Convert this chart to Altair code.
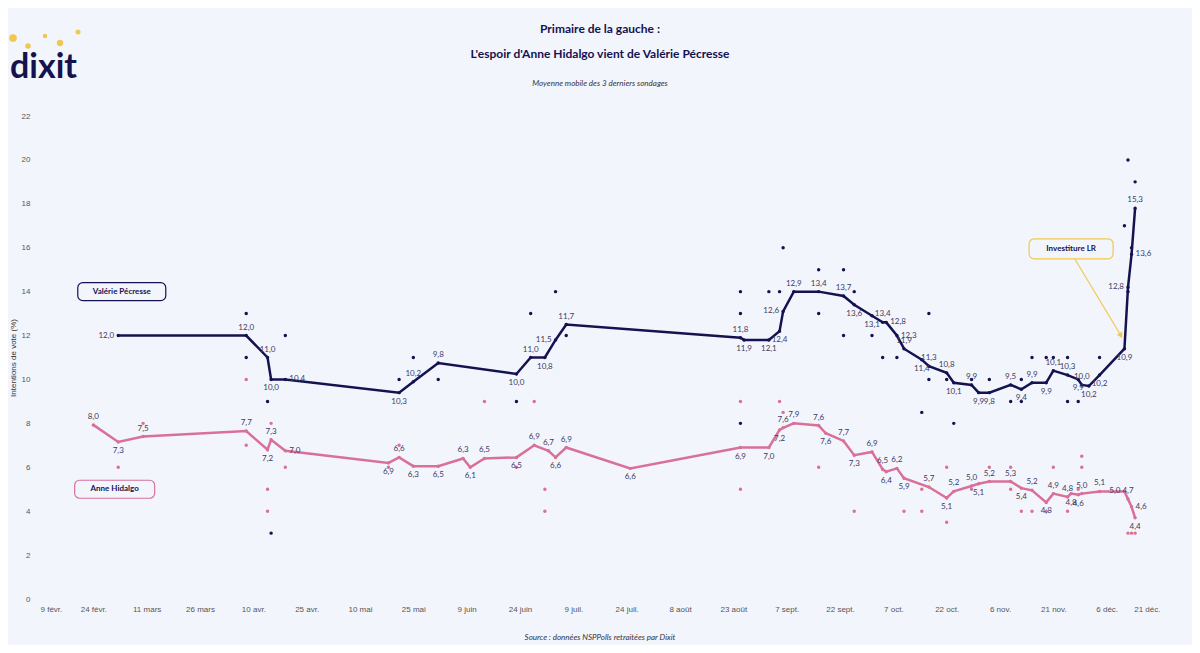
import altair as alt
import pandas as pd

NAVY = "#14124f"
PINK = "#d9709a"
BG = "#f3f5fd"
GOLD = "#f0c850"

# Valérie Pécresse: moyenne mobile
vp_dates = ["2021-03-03", "2021-04-08", "2021-04-14", "2021-04-15", "2021-04-19", "2021-05-21", "2021-05-25",
            "2021-06-01", "2021-06-23", "2021-06-27", "2021-07-01", "2021-07-04", "2021-07-07", "2021-08-25",
            "2021-08-26", "2021-09-02", "2021-09-05", "2021-09-06", "2021-09-09", "2021-09-16", "2021-09-23",
            "2021-09-26", "2021-10-01", "2021-10-04", "2021-10-05", "2021-10-08", "2021-10-10", "2021-10-15",
            "2021-10-17", "2021-10-22", "2021-10-24", "2021-10-29", "2021-10-31", "2021-11-03", "2021-11-09",
            "2021-11-12", "2021-11-15", "2021-11-19", "2021-11-21", "2021-11-25", "2021-11-28", "2021-11-29",
            "2021-12-01", "2021-12-04", "2021-12-11", "2021-12-12", "2021-12-13", "2021-12-14"]
vp_values = [12.0, 12.0, 11.0, 10.0, 10.0, 9.4, 9.9, 10.75, 10.25, 11.0, 11.0, 11.8, 12.5, 11.9,
             11.8, 11.8, 12.2, 13.1, 14.0, 14.0, 13.8, 13.4, 12.9, 12.6, 12.6, 12.0, 11.4, 10.9,
             10.6, 10.3, 9.85, 9.75, 9.4, 9.4, 9.75, 9.55, 9.85, 9.85, 10.4, 10.2, 10.0, 9.75,
             9.7, 10.2, 11.4, 14.2, 15.7, 17.8]
vp_labels = ["12,0", "12,0", "11,0", "10,0", "10,4", "10,3", "10,2", "9,8", "10,0", "11,0", "10,8", "11,5", "11,7",
             "11,8", "11,9", "12,1", "12,4", "12,6", "12,9", "13,4", "13,7", "13,6", "13,1", "13,4", "12,8", "12,3",
             "11,9", "11,4", "11,3", "10,8", "10,1", "9,9", "9,9", "9,8", "9,5", "9,4", "9,9", "9,9", "10,1", "10,3",
             "9,9", "10,0", "10,2", "10,2", "10,9", "12,8", "13,6", "15,3"]
# label side: 1 = above the line, -1 = below, 0 = right, 2 = left
vp_side = [2, 1, 1, -1, 0, -1, 1, 1, -1, 1, -1, 2, 1, 1, -1, -1, -1, 2, 1, 1, 1, -1, -1, 1, 0, 0,
           1, -1, 1, 1, -1, 1, -1, -1, 1, -1, 1, -1, 1, 1, -1, 1, -1, -1, -1, 2, 0, 1]

# Anne Hidalgo: moyenne mobile
ah_dates = ["2021-02-24", "2021-03-03", "2021-03-10", "2021-04-08", "2021-04-14", "2021-04-15", "2021-04-19",
            "2021-05-18", "2021-05-21", "2021-05-25", "2021-06-01", "2021-06-08", "2021-06-10", "2021-06-14",
            "2021-06-23", "2021-06-28", "2021-07-02", "2021-07-04", "2021-07-07", "2021-07-25", "2021-08-25",
            "2021-09-02", "2021-09-05", "2021-09-06", "2021-09-09", "2021-09-16", "2021-09-18", "2021-09-23",
            "2021-09-26", "2021-10-01", "2021-10-04", "2021-10-05", "2021-10-08", "2021-10-10", "2021-10-17",
            "2021-10-22", "2021-10-24", "2021-10-29", "2021-10-31", "2021-11-03", "2021-11-09", "2021-11-12",
            "2021-11-15", "2021-11-19", "2021-11-21", "2021-11-25", "2021-11-26", "2021-11-28", "2021-11-29",
            "2021-12-04", "2021-12-11", "2021-12-12", "2021-12-13", "2021-12-14"]
ah_values = [7.93, 7.15, 7.4, 7.65, 6.8, 7.25, 6.75, 6.2, 6.45, 6.05, 6.05, 6.4, 6.0, 6.4,
             6.45, 7.0, 6.75, 6.45, 6.9, 5.95, 6.9, 6.9, 7.7, 7.8, 8.0, 7.9, 7.55, 7.2,
             6.55, 6.7, 5.9, 5.8, 5.95, 5.5, 5.1, 4.6, 4.9, 5.15, 5.25, 5.35, 5.35, 5.05,
             4.95, 4.4, 4.8, 4.65, 4.8, 4.75, 4.8, 4.9, 4.9, 4.55, 4.2, 3.7]
ah_labels = ["8,0", "7,3", "7,5", "7,7", "7,2", "7,3", "7,0", "6,9", "6,6", "6,3", "6,5", "6,3", "6,1", "6,5",
             "6,5", "6,9", "6,7", "6,6", "6,9", "6,6", "6,9", "7,0", "7,2", "7,6", "7,9", "7,6", "7,6", "7,7",
             "7,3", "6,9", "6,5", "6,4", "6,2", "5,9", "5,7", "5,1", "5,2", "5,0", "5,1", "5,2", "5,3", "5,4",
             "5,2", "4,8", "4,9", "4,8", "4,8", "4,6", "5,0", "5,1", "5,0", "4,7", "4,6", "4,4"]
ah_side = [1, -1, 1, 1, -1, 1, 0, -1, 1, -1, -1, 1, -1, 1, -1, 1, 1, -1, 1, -1, -1, -1, -1, 1, 1,
           1, -1, 1, -1, 1, 1, -1, 1, -1, 1, -1, 1, 1, -1, 1, 1, -1, 1, -1, 1, 1, -1, -1, 1,
           1, 2, 1, 0, -1]

# Sondages individuels
vp_poll_dates = ["2021-04-08", "2021-04-08", "2021-04-14", "2021-04-15", "2021-04-19", "2021-05-21", "2021-05-25",
                 "2021-06-01", "2021-06-23", "2021-06-27", "2021-07-04", "2021-07-07", "2021-08-25", "2021-08-25",
                 "2021-08-25", "2021-09-02", "2021-09-05", "2021-09-06", "2021-09-16", "2021-09-16", "2021-09-23",
                 "2021-09-23", "2021-09-26", "2021-10-01", "2021-10-04", "2021-10-08", "2021-10-15", "2021-10-17",
                 "2021-10-17", "2021-10-22", "2021-10-24", "2021-10-29", "2021-11-03", "2021-11-09", "2021-11-12",
                 "2021-11-12", "2021-11-15", "2021-11-19", "2021-11-21", "2021-11-25", "2021-11-25", "2021-11-28",
                 "2021-12-04", "2021-12-11", "2021-12-12", "2021-12-12", "2021-12-14", "2021-12-13"]
vp_poll_values = [13, 11, 9, 3, 12, 10, 11, 10, 9, 13, 14, 12, 14, 13, 8, 14, 14, 16, 15, 13, 15, 12, 14, 12, 11,
                  11, 8.5, 13, 10, 10, 8, 10, 10, 9, 9, 10, 11, 11, 11, 11, 9, 9, 11, 17, 14, 20, 19, 16]
ah_poll_dates = ["2021-03-03", "2021-03-10", "2021-04-08", "2021-04-08", "2021-04-14", "2021-04-14", "2021-04-15",
                 "2021-04-19", "2021-05-18", "2021-05-21", "2021-06-14", "2021-06-23", "2021-06-28", "2021-07-01",
                 "2021-07-01", "2021-08-25", "2021-08-25", "2021-09-05", "2021-09-06", "2021-09-16", "2021-09-26",
                 "2021-10-10", "2021-10-15", "2021-10-15", "2021-10-22", "2021-10-22", "2021-10-29", "2021-11-03",
                 "2021-11-09", "2021-11-09", "2021-11-12", "2021-11-15", "2021-11-19", "2021-11-21", "2021-11-25",
                 "2021-11-28", "2021-11-29", "2021-11-29", "2021-12-12", "2021-12-13", "2021-12-14"]
ah_poll_values = [6, 8, 10, 7, 5, 4, 8, 6, 6, 7, 9, 6, 9, 5, 4, 5, 9, 9, 8.5, 6, 4, 4, 5, 4, 3.5, 6, 5, 6, 6, 5,
                  4, 4, 4, 6, 4, 5, 6.5, 6, 3, 3, 3]

lines = pd.concat([
    pd.DataFrame({"date": vp_dates, "v": vp_values, "lab": vp_labels, "side": vp_side, "who": "Valérie Pécresse"}),
    pd.DataFrame({"date": ah_dates, "v": ah_values, "lab": ah_labels, "side": ah_side, "who": "Anne Hidalgo"}),
])
polls = pd.concat([
    pd.DataFrame({"date": vp_poll_dates, "v": vp_poll_values, "who": "Valérie Pécresse"}),
    pd.DataFrame({"date": ah_poll_dates, "v": ah_poll_values, "who": "Anne Hidalgo"}),
])

tick_dates = ["2021-02-09", "2021-02-24", "2021-03-11", "2021-03-26", "2021-04-10", "2021-04-25", "2021-05-10",
              "2021-05-25", "2021-06-09", "2021-06-24", "2021-07-09", "2021-07-24", "2021-08-08", "2021-08-23",
              "2021-09-07", "2021-09-22", "2021-10-07", "2021-10-22", "2021-11-06", "2021-11-21", "2021-12-06",
              "2021-12-21"]
tick_vals = [alt.DateTime(year=2021, month=int(d[5:7]), date=int(d[8:])) for d in tick_dates]

month_expr = ("['janv.','févr.','mars','avr.','mai','juin','juil.','août','sept.','oct.','nov.','déc.']"
              "[month(datum.value)]")

color = alt.Color("who:N", scale=alt.Scale(domain=["Valérie Pécresse", "Anne Hidalgo"], range=[NAVY, PINK]),
                  legend=None)
x = alt.X("date:T", title=None,
          scale=alt.Scale(domain=[alt.DateTime(year=2021, month=2, date=9),
                                  alt.DateTime(year=2021, month=12, date=21)]),
          axis=alt.Axis(values=tick_vals, labelExpr="date(datum.value) + ' ' + " + month_expr,
                        labelColor="#555", labelFontSize=8, domain=False, ticks=False, grid=False,
                        labelPadding=6))
y = alt.Y("v:Q", title="Intentions de vote (%)",
          scale=alt.Scale(domain=[0, 22], nice=False),
          axis=alt.Axis(values=list(range(0, 24, 2)), labelColor="#555", labelFontSize=8, domain=False,
                        ticks=False, grid=False, titleFontSize=8, titleFontWeight="normal", titleColor="#333",
                        labelPadding=10))

base = alt.Chart(lines)
line = base.mark_line(strokeWidth=2.5).encode(x=x, y=y, color=color, detail="who:N")
pts = base.mark_circle(size=12, opacity=1).encode(x="date:T", y="v:Q", color=color)
lab_style = dict(fontSize=8, font="Lato", color="#3b3a63")
lab_up = base.transform_filter("datum.side == 1").mark_text(dy=-8, **lab_style).encode(
    x="date:T", y="v:Q", text="lab:N")
lab_dn = base.transform_filter("datum.side == -1").mark_text(dy=9, **lab_style).encode(
    x="date:T", y="v:Q", text="lab:N")
lab_r = base.transform_filter("datum.side == 0").mark_text(dx=4, align="left", **lab_style).encode(
    x="date:T", y="v:Q", text="lab:N")
lab_l = base.transform_filter("datum.side == 2").mark_text(dx=-4, align="right", **lab_style).encode(
    x="date:T", y="v:Q", text="lab:N")
dots = alt.Chart(polls).mark_circle(size=12, opacity=1).encode(x="date:T", y="v:Q", color=color)

# annotation arrow
arrow = alt.Chart(pd.DataFrame({"d1": ["2021-11-27"], "v1": [15.5], "d2": ["2021-12-10"], "v2": [12.0]})).mark_rule(
    color=GOLD, strokeWidth=1.2).encode(x="d1:T", y="v1:Q", x2="d2:T", y2="v2:Q")
head = alt.Chart(pd.DataFrame({"d": ["2021-12-10"], "v": [12.0]})).mark_point(
    shape="triangle-up", size=40, filled=True, color=GOLD, angle=151, opacity=1).encode(x="d:T", y="v:Q")

def rbox(d, v, c, w, h=18):
    return alt.Chart(pd.DataFrame({"d": [d], "v": [v]})).mark_rect(
        width=w, height=h, cornerRadius=5, stroke=c, strokeWidth=1.2, fill=BG).encode(x="d:T", y="v:Q")

box_txt = ["Valérie Pécresse", "Anne Hidalgo", "Investiture LR"]
box_dates = ["2021-03-04", "2021-03-02", "2021-11-26"]
box_vals = [14.0, 5.0, 15.95]
frames = rbox(box_dates[0], box_vals[0], NAVY, 88) + rbox(box_dates[1], box_vals[1], PINK, 80) + \
    rbox(box_dates[2], box_vals[2], GOLD, 84, 20)
box = alt.Chart(pd.DataFrame({"t": box_txt, "d": box_dates, "v": box_vals})).mark_text(
    fontSize=8, fontWeight="bold", font="Lato", color=NAVY).encode(x="d:T", y="v:Q", text="t:N")

titles = ["Primaire de la gauche :", "L'espoir d'Anne Hidalgo vient de Valérie Pécresse"]
notes = ["Moyenne mobile des 3 derniers sondages", "Source : données NSPPolls retraitées par Dixit"]
h_bold = alt.Chart(pd.DataFrame({"t": titles, "yy": [-87, -62]})).mark_text(
    fontWeight="bold", fontSize=12, font="Lato", color=NAVY).encode(
    x=alt.value(560), y=alt.Y("yy:Q", scale=None), text="t:N")
h_it = alt.Chart(pd.DataFrame({"t": notes, "yy": [-32, 522]})).mark_text(
    fontStyle="italic", fontSize=8, font="Lato", color="#333").encode(
    x=alt.value(560), y=alt.Y("yy:Q", scale=None), text="t:N")
logo = alt.Chart(pd.DataFrame({"t": ["dixit"]})).mark_text(
    fontWeight="bold", fontSize=34, font="Lato", color=NAVY, align="left").encode(
    x=alt.value(-30), y=alt.value(-48), text="t:N")
logo_dots = alt.Chart(pd.DataFrame({"px": [-27, -12, 5, 20, 38], "py": [-78, -70, -80, -73, -84],
                                    "s": [60, 30, 20, 40, 25]})).mark_circle(color=GOLD, opacity=1).encode(
    x=alt.X("px:Q", scale=None), y=alt.Y("py:Q", scale=None), size=alt.Size("s:Q", scale=None, legend=None))

chart = alt.layer(
    dots, line, pts, lab_up, lab_dn, lab_r, lab_l, arrow, head, frames, box, h_bold, h_it, logo_dots, logo
).properties(
    width=1120, height=483, background=BG,
    padding={"left": 32, "top": 108, "right": 32, "bottom": 46},
    autosize=alt.AutoSizeParams(type="none"),
).configure_view(stroke=None)

chart.save("out.html", embed_options={"renderer": "svg", "actions": False})
